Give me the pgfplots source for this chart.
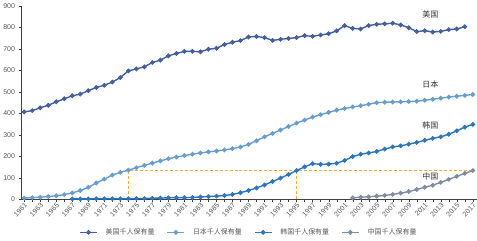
\documentclass[border=0pt]{standalone}
\usepackage{pgfplots}
\pgfplotsset{compat=1.18}
\usepackage{fontspec}
\setmainfont{Liberation Sans}
\newfontfamily\cjk{Noto Sans CJK SC}
\definecolor{cUS}{RGB}{68,94,158}
\definecolor{cJP}{RGB}{104,158,207}
\definecolor{cKR}{RGB}{46,117,190}
\definecolor{cCN}{RGB}{128,140,160}
\definecolor{cDash}{RGB}{232,182,40}
\definecolor{tgray}{RGB}{89,89,89}
\begin{document}
\begin{tikzpicture}
\begin{axis}[
  scale only axis,
  width=455bp, height=193bp,
  xmin=1960.6, xmax=2017.5,
  ymin=0, ymax=900,
  axis x line=bottom, axis y line=left,
  axis line style={black!75, -},
  xtick={1961,1963,...,2017},
  minor xtick={1962,1964,...,2016},
  ytick={0,100,...,900},
  tick align=outside,
  major tick length=2.5pt, minor tick length=2.5pt,
  tick style={black!75},
  x tick label style={rotate=45, anchor=north east, font=\fontsize{7}{7}\selectfont, text=tgray, inner sep=0.5pt},
  y tick label style={font=\fontsize{7}{8}\selectfont, text=tgray},
  /pgf/number format/assume math mode=true,
  xticklabel={\pgfmathprintnumber[1000 sep=]{\tick}},
  every axis plot/.append style={line width=1.4pt, mark=*, mark size=1.6pt},
  legend columns=4,
  legend style={at={(axis description cs:0.5,-0.172)}, anchor=center, draw=none, font=\cjk\fontsize{7}{8}\selectfont, text=tgray, column sep=6pt, /tikz/every even column/.append style={column sep=10pt}},
  legend image code/.code={\draw[#1, mark repeat=2, mark phase=2] plot coordinates {(0cm,0cm) (0.3cm,0cm) (0.6cm,0cm)};},
  clip=false,
]
\addplot[color=cUS, mark options={fill=cUS}] coordinates {
(1961,406)(1962,412)(1963,425)(1964,437)(1965,453)(1966,467)(1967,481)(1968,489)(1969,505)(1970,520)
(1971,530)(1972,545)(1973,566)(1974,597)(1975,606)(1976,616)(1977,636)(1978,647)(1979,667)(1980,678)
(1981,688)(1982,688)(1983,686)(1984,698)(1985,702)(1986,720)(1987,730)(1988,738)(1989,755)(1990,757)
(1991,752)(1992,739)(1993,744)(1994,748)(1995,752)(1996,761)(1997,758)(1998,764)(1999,770)(2000,783)
(2001,808)(2002,795)(2003,792)(2004,808)(2005,814)(2006,816)(2007,819)(2008,811)(2009,798)(2010,780)
(2011,784)(2012,778)(2013,781)(2014,789)(2015,792)(2016,803)};
\addlegendentry{美国千人保有量}
\addplot[color=cJP, mark options={fill=cJP}] coordinates {
(1961,5)(1962,7)(1963,9)(1964,12)(1965,16)(1966,21)(1967,29)(1968,40)(1969,55)(1970,75)
(1971,93)(1972,112)(1973,125)(1974,135)(1975,146)(1976,157)(1977,168)(1978,178)(1979,188)(1980,196)
(1981,203)(1982,209)(1983,215)(1984,220)(1985,224)(1986,229)(1987,235)(1988,243)(1989,255)(1990,272)
(1991,290)(1992,306)(1993,322)(1994,338)(1995,354)(1996,368)(1997,382)(1998,393)(1999,404)(2000,414)
(2001,422)(2002,429)(2003,435)(2004,442)(2005,449)(2006,451)(2007,452)(2008,453)(2009,454)(2010,456)
(2011,460)(2012,465)(2013,470)(2014,475)(2015,479)(2016,483)(2017,487)};
\addlegendentry{日本千人保有量}
\addplot[color=cKR, mark options={fill=cKR}] coordinates {
(1967,1)(1968,1)(1969,1)(1970,2)(1971,2)(1972,2)(1973,2)(1974,2)(1975,3)(1976,3)
(1977,4)(1978,5)(1979,6)(1980,7)(1981,7)(1982,8)(1983,10)(1984,12)(1985,14)(1986,17)
(1987,22)(1988,30)(1989,40)(1990,52)(1991,66)(1992,82)(1993,98)(1994,115)(1995,133)(1996,150)
(1997,165)(1998,162)(1999,163)(2000,167)(2001,180)(2002,198)(2003,209)(2004,215)(2005,222)(2006,233)
(2007,243)(2008,248)(2009,256)(2010,264)(2011,274)(2012,283)(2013,290)(2014,302)(2015,318)(2016,335)(2017,348)};
\addlegendentry{韩国千人保有量}
\addplot[color=cCN, mark options={fill=cCN}] coordinates {
(2002,6)(2003,9)(2004,11)(2005,14)(2006,17)(2007,22)(2008,28)(2009,35)(2010,45)(2011,55)
(2012,65)(2013,78)(2014,92)(2015,106)(2016,120)(2017,133)};
\addlegendentry{中国千人保有量}
\addplot[forget plot, color=cDash, densely dashed, line width=0.8pt, mark=none] coordinates {(1974,0)(1974,133)(2017,133)};
\addplot[forget plot, color=cDash, densely dashed, line width=0.8pt, mark=none] coordinates {(1995,0)(1995,133)};
\node[font=\cjk\fontsize{8}{9}\selectfont, text=black!80] at (axis cs:2011.7,860) {美国};
\node[font=\cjk\fontsize{8}{9}\selectfont, text=black!80] at (axis cs:2011.7,535) {日本};
\node[font=\cjk\fontsize{8}{9}\selectfont, text=black!80] at (axis cs:2011.7,343) {韩国};
\node[font=\cjk\fontsize{8}{9}\selectfont, text=black!80] at (axis cs:2011.7,105) {中国};
\end{axis}
\end{tikzpicture}
\end{document}
